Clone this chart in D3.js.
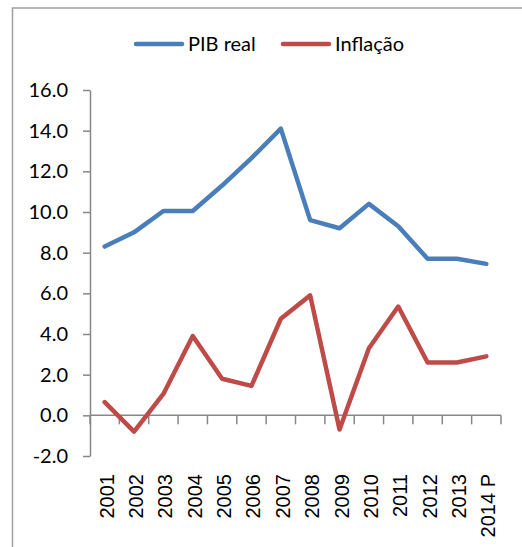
<!DOCTYPE html>
<html>
<head>
<meta charset="utf-8">
<script src="https://cdn.jsdelivr.net/npm/d3@7"></script>
<style>
  body { margin: 0; background: #fff; }
  svg { display: block; }
</style>
</head>
<body>
<div id="chart"></div>
<script>
// chart data
const years = ["2001", "2002", "2003", "2004", "2005", "2006", "2007",
               "2008", "2009", "2010", "2011", "2012", "2013", "2014 P"];
const pib = [8.3, 9.0, 10.05, 10.05, 11.3, 12.65, 14.1, 9.6, 9.2, 10.4, 9.3, 7.7, 7.7, 7.45];
const inflacao = [0.65, -0.8, 1.05, 3.9, 1.8, 1.45, 4.75, 5.9, -0.7, 3.3, 5.35, 2.6, 2.6, 2.9];
const yTicks = [-2, 0, 2, 4, 6, 8, 10, 12, 14, 16];
const seriesNames = ["PIB real", "Inflação"];

const colors = ["#4a7ebb", "#be4b48"];

const W = 522, H = 547;
const svg = d3.select("#chart").append("svg")
    .attr("width", W)
    .attr("height", H);

// outer chart border (only top/left visible in the frame)
svg.append("rect")
    .attr("x", 12.5)
    .attr("y", 8)
    .attr("width", 600)
    .attr("height", 600)
    .attr("fill", "none")
    .attr("stroke", "#a0a0a0")
    .attr("stroke-width", 1.5);

const x = d3.scaleBand().domain(years).range([90, 501]);
const y = d3.scaleLinear().domain([-2, 16]).range([456, 90]);

const axisColor = "#878787";

// y axis
const yAxis = svg.append("g")
    .attr("transform", "translate(90,0)")
    .call(d3.axisLeft(y)
        .tickValues(yTicks)
        .tickSize(7)
        .tickSizeOuter(0)
        .tickPadding(15)
        .tickFormat(d => d.toFixed(1)));
yAxis.select(".domain").attr("stroke", axisColor).attr("stroke-width", 1.5);
yAxis.selectAll(".tick line").attr("stroke", axisColor).attr("stroke-width", 1.5);
yAxis.selectAll(".tick text")
    .attr("fill", "#000")
    .style("font-family", "Lato, 'Liberation Sans', sans-serif")
    .style("font-size", "20px");

// x axis line at zero with ticks on category boundaries
const y0 = y(0);
svg.append("line")
    .attr("x1", x.range()[0]).attr("x2", x.range()[1])
    .attr("y1", y0).attr("y2", y0)
    .attr("stroke", axisColor).attr("stroke-width", 1.5);

const bounds = years.map(d => x(d)).concat([x.range()[1]]);
svg.append("g").selectAll("line")
    .data(bounds)
    .join("line")
    .attr("x1", d => d).attr("x2", d => d)
    .attr("y1", y0).attr("y2", y0 + 9)
    .attr("stroke", axisColor)
    .attr("stroke-width", 1.5);

// rotated category labels
svg.append("g").selectAll("text")
    .data(years)
    .join("text")
    .attr("transform", d => `translate(${x(d) + x.bandwidth() / 2},474) rotate(-90)`)
    .attr("text-anchor", "end")
    .attr("dy", "0.45em")
    .style("font-family", "'Liberation Sans', Arial, sans-serif")
    .style("font-size", "20px")
    .text(d => d);

// lines
const line = d3.line()
    .x((d, i) => x(years[i]) + x.bandwidth() / 2)
    .y(d => y(d));

[pib, inflacao].forEach((vals, k) => {
    svg.append("path")
        .datum(vals)
        .attr("d", line)
        .attr("fill", "none")
        .attr("stroke", colors[k])
        .attr("stroke-width", 4.5)
        .attr("stroke-linejoin", "round")
        .attr("stroke-linecap", "round");
});

// legend
const legendX = [136, 283];
const legend = svg.append("g").selectAll("g")
    .data(seriesNames)
    .join("g")
    .attr("transform", (d, i) => `translate(${legendX[i]},44)`);
legend.append("line")
    .attr("x1", 0).attr("x2", 46)
    .attr("stroke", (d, i) => colors[i])
    .attr("stroke-width", 4.5)
    .attr("stroke-linecap", "round");
legend.append("text")
    .attr("x", 52)
    .attr("y", 7)
    .style("font-family", "Lato, 'Liberation Sans', sans-serif")
    .style("font-size", "20px")
    .text(d => d);
</script>
</body>
</html>
